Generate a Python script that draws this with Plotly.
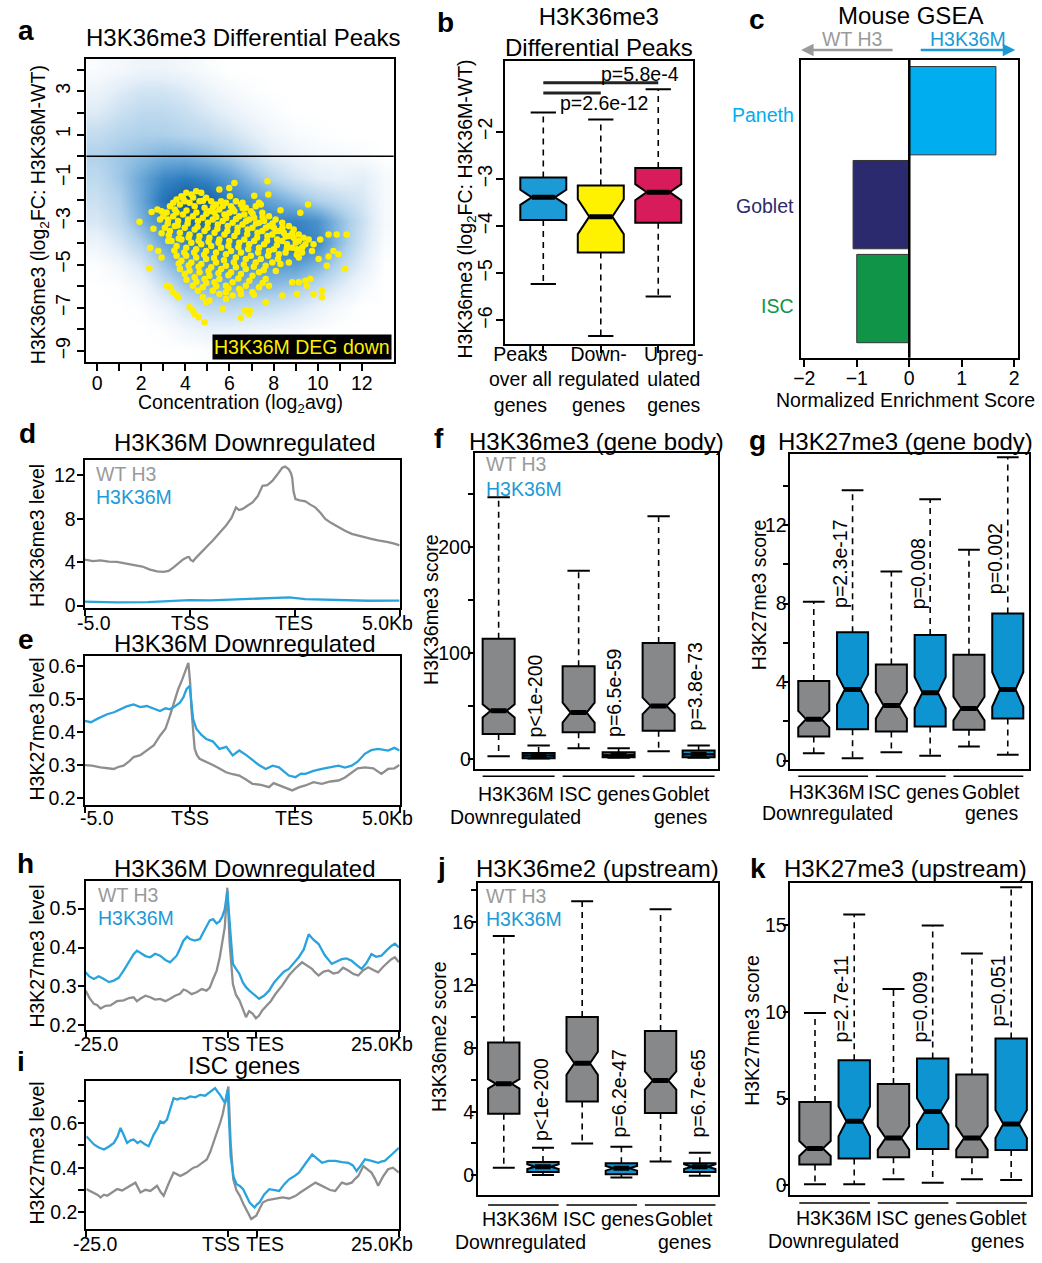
import plotly.graph_objects as go

W, H = 1042, 1263
FONT = "Liberation Sans, Arial, Helvetica, sans-serif"
BLACK = "#000000"
LINE_BLUE = "#29a3dd"
LINE_GRAY = "#8e8e8e"
TXT_GRAY = "#9a9a9a"
TXT_BLUE = "#1c9ad6"
BOX_GRAY = "#87888a"
BOX_BLUE = "#0f94d2"
FS = 19.5

# ======================= DATA =======================
# ---- a: density background + DEG-down peaks ----
a_dens_x = [0, 1, 2, 3, 4, 5, 6, 7, 8, 9, 10, 11, 12, 13]
a_dens_y = [-9, -8, -7, -6, -5, -4, -3, -2, -1, 0, 1, 2, 3, 4]
a_dens_z = [
    [0, 0, 0, 0, 0, 0.02, 0.02, 0.02, 0, 0, 0, 0, 0, 0],
    [0, 0, 0, 0.02, 0.08, 0.12, 0.12, 0.1, 0.08, 0.05, 0.02, 0, 0, 0],
    [0, 0, 0.02, 0.1, 0.22, 0.3, 0.3, 0.28, 0.25, 0.2, 0.12, 0.05, 0, 0],
    [0, 0.02, 0.08, 0.25, 0.4, 0.48, 0.5, 0.48, 0.45, 0.4, 0.3, 0.18, 0.06, 0],
    [0.02, 0.08, 0.2, 0.4, 0.55, 0.62, 0.65, 0.62, 0.6, 0.6, 0.5, 0.32, 0.15, 0],
    [0.1, 0.2, 0.35, 0.55, 0.7, 0.75, 0.75, 0.72, 0.75, 0.8, 0.7, 0.45, 0.22, 0.03],
    [0.2, 0.3, 0.5, 0.7, 0.85, 0.85, 0.8, 0.75, 0.72, 0.72, 0.65, 0.45, 0.25, 0.05],
    [0.25, 0.35, 0.55, 0.8, 0.95, 0.9, 0.75, 0.65, 0.55, 0.45, 0.35, 0.28, 0.2, 0.05],
    [0.3, 0.4, 0.55, 0.7, 0.75, 0.7, 0.6, 0.45, 0.32, 0.22, 0.15, 0.12, 0.15, 0.05],
    [0.35, 0.4, 0.45, 0.5, 0.5, 0.45, 0.38, 0.28, 0.16, 0.1, 0.06, 0.05, 0.03, 0],
    [0.28, 0.33, 0.36, 0.36, 0.33, 0.3, 0.24, 0.16, 0.08, 0.04, 0.02, 0, 0, 0],
    [0.18, 0.25, 0.3, 0.3, 0.26, 0.2, 0.13, 0.07, 0.03, 0, 0, 0, 0, 0],
    [0.1, 0.17, 0.22, 0.22, 0.18, 0.11, 0.05, 0.02, 0, 0, 0, 0, 0, 0],
    [0.03, 0.06, 0.1, 0.1, 0.07, 0.03, 0, 0, 0, 0, 0, 0, 0, 0],
]
a_deg_x = [
    1.92, 2.47, 2.55, 2.40, 2.37, 2.73, 2.92, 2.85, 2.92, 3.22, 2.77, 2.92, 3.15, 3.30, 3.45, 3.60, 3.67,
    4.19, 4.34, 4.42, 4.61, 4.87, 5.09, 4.94, 4.79, 5.69, 5.84, 6.52, 6.71, 6.89, 6.92, 7.64, 8.39, 9.06,
    9.51, 9.81, 10.19, 10.19, 10.41, 10.49, 10.71, 10.94, 11.24, 11.31, 10.86, 10.49, 10.11, 9.81, 9.74,
    9.14, 8.69, 8.31, 10.04, 9.66, 9.44, 9.14, 8.84, 7.72, 7.76, 6.22, 5.99, 5.54, 9.56, 9.21, 8.31, 7.12,
    7.34, 7.42, 6.02, 6.59,
    3.60, 3.82, 4.04, 4.27, 4.49, 4.72, 4.94, 5.17, 5.39, 5.62, 5.84, 6.07, 6.29, 6.52, 6.74, 6.97, 7.19,
    7.49, 7.79, 8.09, 8.39, 8.69, 8.91, 9.14, 9.36, 9.59,
    3.30, 3.52, 3.75, 3.97, 4.19, 4.42, 4.64, 4.87, 5.09, 5.32, 5.54, 5.77, 5.99, 6.22, 6.44, 6.67, 6.89,
    7.12, 7.34, 7.57, 7.79, 8.01, 8.24, 8.46, 8.69, 8.91, 9.14, 9.44,
    3.00, 3.22, 3.45, 3.67, 3.89, 4.12, 4.34, 4.57, 4.79, 5.02, 5.24, 5.47, 5.69, 5.92, 6.14, 6.37, 6.59,
    6.82, 7.04, 7.27, 7.49, 7.72, 7.94, 8.16, 8.39, 8.61, 8.84, 9.06, 9.29,
    3.07, 3.30, 3.52, 3.75, 3.97, 4.19, 4.42, 4.64, 4.87, 5.09, 5.32, 5.54, 5.77, 5.99, 6.22, 6.44, 6.67,
    6.89, 7.12, 7.34, 7.57, 7.79, 8.01, 8.24, 8.54,
    3.37, 3.60, 3.82, 4.04, 4.27, 4.49, 4.72, 4.94, 5.17, 5.39, 5.62, 5.84, 6.07, 6.29, 6.52, 6.74, 6.97,
    7.19, 7.42, 7.64, 7.94,
    3.60, 3.82, 4.04, 4.27, 4.49, 4.72, 4.94, 5.17, 5.39, 5.62, 5.84, 6.07, 6.29, 6.52, 6.74, 7.04, 7.34, 7.64,
    3.75, 3.97, 4.19, 4.42, 4.64, 4.87, 5.09, 5.32, 5.54, 5.84, 6.14, 6.44, 6.74, 7.04, 7.34, 7.79,
    4.34, 4.57, 4.79, 5.24, 5.54, 5.84, 6.14, 6.52,
    3.45, 3.90, 4.35, 4.80, 5.25, 5.70, 6.15, 6.60, 7.05, 7.50, 7.95, 8.40, 8.85,
    3.15, 3.60, 4.05, 4.50, 4.95, 5.40, 5.85, 6.30, 6.75, 7.20, 7.65, 8.10, 8.55, 9.00, 9.30,
    3.20, 3.65, 4.10, 4.55, 5.00, 5.45, 5.90, 6.35, 6.80, 7.25, 7.70, 8.15, 8.60, 9.05,
    3.25, 3.70, 4.15, 4.60, 5.05, 5.50, 5.95, 6.40, 6.85, 7.30, 7.75, 8.20,
    3.50, 3.95, 4.40, 4.85, 5.30, 5.75, 6.20, 6.65, 7.10, 7.55, 8.10,
    3.70, 4.15, 4.60, 5.05, 5.50, 5.95, 6.40, 6.90, 7.50,
    4.05, 4.50, 4.95, 5.40, 5.95, 6.50, 7.10,
]
a_deg_y = [
    -3.02, -2.58, -3.35, -4.22, -5.17, -2.46, -2.54, -2.92, -3.56, -3.91, -4.37, -4.68, -5.98, -6.05, -6.28, -6.43, -6.51,
    -6.97, -7.12, -7.28, -7.43, -7.66, -6.66, -6.74, -6.51, -7.05, -6.59, -7.46, -7.12, -7.28, -7.12, -6.74, -6.43, -6.36,
    -5.98, -6.36, -6.51, -6.21, -5.06, -4.63, -4.37, -4.52, -5.21, -3.61, -3.61, -3.61, -3.84, -4.06, -4.37,
    -4.68, -4.91, -4.98, -4.75, -5.67, -5.75, -5.82, -5.82, -1.16, -1.77, -1.24, -1.47, -1.54, -2.23, -2.61, -2.49, -1.82,
    -2.15, -2.23, -1.85, -2.15,
    -2.00, -1.85, -1.69, -1.77, -1.62, -1.69, -1.92, -2.08, -2.23, -2.08, -2.15, -2.31, -2.08, -2.23, -2.38, -2.54, -2.31,
    -2.61, -2.77, -2.92, -3.07, -3.22, -3.38, -3.61, -3.76, -3.84,
    -2.31, -2.46, -2.23, -2.08, -2.15, -2.31, -2.08, -2.38, -2.54, -2.61, -2.46, -2.69, -2.61, -2.54, -2.77, -2.69, -2.92,
    -2.84, -3.07, -2.99, -3.22, -3.30, -3.45, -3.53, -3.68, -3.76, -3.91, -4.06,
    -2.77, -2.92, -2.77, -2.99, -2.69, -2.92, -2.77, -2.99, -2.84, -3.07, -2.92, -3.15, -2.99, -3.22, -3.07, -3.30, -3.15,
    -3.38, -3.30, -3.53, -3.45, -3.68, -3.61, -3.84, -3.91, -4.06, -4.22, -4.29, -4.45,
    -3.30, -3.45, -3.22, -3.53, -3.30, -3.61, -3.38, -3.68, -3.45, -3.76, -3.53, -3.84, -3.61, -3.91, -3.68, -3.99, -3.84,
    -4.06, -3.91, -4.22, -4.06, -4.37, -4.29, -4.52, -4.45,
    -3.91, -4.14, -3.84, -4.22, -3.99, -4.29, -4.06, -4.37, -4.14, -4.45, -4.22, -4.52, -4.37, -4.68, -4.45, -4.75, -4.60,
    -4.91, -4.75, -5.06, -4.91,
    -4.60, -4.83, -4.60, -4.91, -4.68, -4.98, -4.75, -5.13, -4.91, -5.21, -5.06, -5.36, -5.13, -5.44, -5.21, -5.52, -5.36, -5.67,
    -5.21, -5.44, -5.29, -5.59, -5.36, -5.67, -5.52, -5.82, -5.67, -5.98, -5.82, -6.13, -5.98, -6.28, -6.05, -5.98,
    -5.98, -6.21, -6.05, -6.21, -6.36, -6.28, -6.43, -6.36,
    -2.15, -1.95, -1.90, -2.05, -2.35, -2.30, -2.45, -2.40, -2.65, -2.80, -3.10, -3.30, -3.55,
    -2.60, -2.60, -2.50, -2.60, -2.65, -2.80, -2.85, -2.90, -3.00, -3.10, -3.30, -3.45, -3.70, -4.00, -4.20,
    -3.10, -3.20, -3.10, -3.25, -3.30, -3.35, -3.45, -3.50, -3.60, -3.75, -3.90, -4.10, -4.25, -4.55,
    -3.65, -3.80, -3.75, -3.90, -3.95, -4.00, -4.15, -4.20, -4.30, -4.45, -4.60, -4.75,
    -4.35, -4.45, -4.45, -4.55, -4.70, -4.80, -4.90, -5.00, -5.10, -5.25, -5.30,
    -4.95, -5.05, -5.10, -5.30, -5.40, -5.50, -5.65, -5.75, -5.85,
    -5.70, -5.80, -5.85, -6.00, -6.10, -6.20, -6.40,
]
a_x_ticks = [0, 1, 2, 3, 4, 5, 6, 7, 8, 9, 10, 11, 12]
a_x_ticktext = ["0", "", "2", "", "4", "", "6", "", "8", "", "10", "", "12"]
a_y_ticks = [-9, -8, -7, -6, -5, -4, -3, -2, -1, 0, 1, 2, 3, 4]
a_y_ticktext = ["−9", "", "−7", "", "−5", "", "−3", "", "−1", "", "1", "", "3", ""]

# ---- b: boxplots of log2FC ----
b_pos = [1, 2, 3]
b_labels = ["Peaks<br>over all<br>genes", "Down-<br>regulated<br>genes", "Upreg-<br>ulated<br>genes"]
b_q1 = [-3.87, -4.56, -3.93]
b_med = [-3.39, -3.80, -3.28]
b_q3 = [-2.97, -3.14, -2.77]
b_lo = [-5.23, -6.33, -5.49]
b_hi = [-1.59, -1.74, -1.10]
b_notch = [0.16, 0.37, 0.17]
b_colors = ["#1c9ad6", "#fff200", "#d81b5b"]
b_brk_x0 = [1, 1]
b_brk_x1 = [3, 2]
b_brk_y = [-0.96, -1.18]
b_ptext = ["p=5.8e-4", "p=2.6e-12"]
b_ptext_x = [2.69, 2.05]
b_ptext_y = [-0.77, -1.40]
b_y_ticks = [-6, -5, -4, -3, -2]
b_y_ticktext = ["−6", "−5", "−4", "−3", "−2"]

# ---- c: GSEA ----
c_sets = ["ISC", "Goblet", "Paneth"]
c_ypos = [0, 1, 2]
c_nes = [-1.0, -1.07, 1.65]
c_colors = ["#0f9448", "#2b2a6e", "#00aeef"]
c_x_ticks = [-2, -1, 0, 1, 2]
c_x_ticktext = ["−2", "−1", "0", "1", "2"]

# ---- d/e: metagene profiles (-5kb, TSS, TES, +5kb scaled to 0..3) ----
de_tick_vals = [0, 1, 2, 3]
de_tick_text = ["-5.0", "TSS", "TES", "5.0Kb"]
d_gray_x = [0.0, 0.08, 0.151, 0.23, 0.308, 0.39, 0.466, 0.55, 0.623, 0.69, 0.749, 0.80, 0.844, 0.89, 0.938,
            0.975, 0.995, 1.01, 1.033, 1.06, 1.095, 1.16, 1.221, 1.28, 1.347, 1.40, 1.442, 1.47, 1.505, 1.55,
            1.599, 1.65, 1.694, 1.74, 1.788, 1.83, 1.882, 1.91, 1.945, 1.965, 1.977, 1.99, 2.008, 2.05, 2.103,
            2.15, 2.197, 2.25, 2.292, 2.35, 2.418, 2.48, 2.544, 2.60, 2.669, 2.73, 2.795, 2.85, 2.890, 2.95, 3.0]
d_gray_y = [4.23, 4.1, 4.17, 4.05, 4.02, 3.9, 3.78, 3.6, 3.32, 3.15, 3.11, 3.2, 3.5, 3.85, 4.26,
            4.45, 4.48, 4.2, 4.08, 4.4, 4.78, 5.4, 6.0, 6.6, 7.37, 8.1, 9.05, 8.8, 8.9, 9.2,
            9.5, 10.1, 11.03, 11.1, 11.48, 12.0, 12.7, 12.8, 12.55, 12.2, 11.79, 10.5, 9.81, 9.7, 9.6,
            9.3, 9.05, 8.5, 7.98, 7.6, 7.22, 6.9, 6.61, 6.45, 6.3, 6.15, 6.0, 5.95, 5.85, 5.7, 5.54]
d_blue_x = [0, 0.3, 0.6, 0.9, 1.0, 1.2, 1.5, 1.8, 1.95, 2.1, 2.4, 2.7, 3.0]
d_blue_y = [0.37, 0.3, 0.32, 0.42, 0.5, 0.48, 0.6, 0.7, 0.76, 0.6, 0.5, 0.45, 0.46]
e_gray_x = [0, 0.07, 0.151, 0.21, 0.277, 0.32, 0.371, 0.42, 0.466, 0.53, 0.592, 0.66, 0.718, 0.77, 0.812,
            0.85, 0.891, 0.93, 0.954, 0.975, 0.988, 1.005, 1.017, 1.048, 1.07, 1.095, 1.16, 1.221, 1.28, 1.347,
            1.41, 1.473, 1.54, 1.599, 1.68, 1.757, 1.80, 1.851, 1.91, 1.977, 2.04, 2.103, 2.18, 2.260, 2.34,
            2.418, 2.48, 2.544, 2.60, 2.669, 2.75, 2.827, 2.890, 2.95, 3.0]
e_gray_y = [0.30, 0.298, 0.293, 0.29, 0.288, 0.294, 0.298, 0.31, 0.324, 0.33, 0.344, 0.36, 0.389, 0.41, 0.449,
            0.49, 0.53, 0.56, 0.58, 0.598, 0.61, 0.55, 0.47, 0.35, 0.33, 0.319, 0.31, 0.30, 0.29, 0.278,
            0.272, 0.268, 0.255, 0.243, 0.24, 0.233, 0.245, 0.238, 0.232, 0.223, 0.232, 0.238, 0.248, 0.243, 0.25,
            0.253, 0.262, 0.278, 0.29, 0.293, 0.29, 0.273, 0.288, 0.29, 0.30]
e_blue_x = [0, 0.06, 0.120, 0.17, 0.214, 0.28, 0.340, 0.40, 0.466, 0.53, 0.592, 0.66, 0.718, 0.77, 0.812,
            0.86, 0.907, 0.94, 0.970, 1.001, 1.015, 1.033, 1.064, 1.11, 1.158, 1.22, 1.284, 1.35, 1.410, 1.473,
            1.54, 1.599, 1.66, 1.725, 1.79, 1.851, 1.90, 1.945, 2.008, 2.06, 2.103, 2.18, 2.260, 2.34, 2.418,
            2.48, 2.544, 2.60, 2.669, 2.73, 2.795, 2.890, 2.95, 3.0]
e_blue_y = [0.434, 0.43, 0.44, 0.448, 0.454, 0.46, 0.469, 0.478, 0.484, 0.476, 0.479, 0.47, 0.464, 0.472, 0.469,
            0.478, 0.489, 0.505, 0.53, 0.54, 0.5, 0.44, 0.41, 0.392, 0.379, 0.372, 0.349, 0.355, 0.329, 0.344,
            0.33, 0.314, 0.3, 0.288, 0.298, 0.293, 0.28, 0.268, 0.263, 0.274, 0.273, 0.282, 0.288, 0.293, 0.298,
            0.292, 0.298, 0.31, 0.334, 0.345, 0.349, 0.344, 0.352, 0.344]

# ---- h/i: profiles in kb (-25kb .. TSS(0) .. TES(5) .. +25kb) ----
hi_tick_vals = [-25, 0, 5, 30]
hi_tick_text = ["-25.0", "TSS", "TES", "25.0Kb"]
h_gray_x = [-25, -24.3, -23.55, -23.0, -22.38, -21.5, -20.64, -19.5, -18.31, -17.4, -16.57, -16.0, -15.41,
            -14.5, -13.66, -12.8, -11.92, -11.0, -10.17, -9.3, -8.43, -7.8, -7.27, -6.4, -5.52, -4.6, -3.78,
            -3.2, -2.62, -2.0, -1.45, -0.58, -0.12, 0.29, 0.86, 1.4, 2.01, 2.6, 3.16, 3.7, 4.31, 4.9, 5.46,
            6.0, 6.62, 7.5, 8.36, 9.5, 10.68, 11.8, 13.0, 13.9, 14.74, 15.3, 15.90, 16.8, 17.64, 18.5, 19.38,
            20.2, 21.12, 22.0, 22.86, 23.7, 24.61, 25.5, 26.35, 27.2, 28.09, 28.67, 29.3, 30]
h_gray_y = [0.289, 0.27, 0.255, 0.252, 0.243, 0.25, 0.251, 0.262, 0.264, 0.27, 0.272, 0.262, 0.268,
            0.276, 0.272, 0.266, 0.268, 0.262, 0.268, 0.276, 0.281, 0.292, 0.289, 0.28, 0.285, 0.293, 0.289,
            0.297, 0.319, 0.34, 0.375, 0.451, 0.554, 0.409, 0.306, 0.278, 0.264, 0.24, 0.221, 0.236, 0.230,
            0.218, 0.225, 0.238, 0.247, 0.262, 0.281, 0.302, 0.328, 0.346, 0.362, 0.352, 0.345, 0.336, 0.328,
            0.338, 0.341, 0.333, 0.336, 0.348, 0.341, 0.332, 0.328, 0.341, 0.349, 0.342, 0.336, 0.350, 0.362,
            0.370, 0.375, 0.362]
h_blue_x = [-25, -24.3, -23.55, -22.7, -21.80, -20.9, -20.06, -19.2, -18.31, -17.4, -16.57, -16.0, -15.41,
            -14.5, -13.66, -12.8, -11.92, -11.0, -10.17, -9.01, -8.4, -7.85, -7.2, -6.69, -5.8, -4.94, -4.3,
            -3.78, -3.2, -2.62, -2.0, -1.45, -1.0, -0.58, -0.12, 0.40, 0.86, 1.4, 2.01, 2.6, 3.16, 3.7, 4.31,
            4.9, 5.46, 6.3, 7.20, 8.1, 8.94, 9.8, 10.68, 11.5, 12.42, 13.3, 14.16, 15.0, 15.90, 17.0, 18.22,
            19.1, 19.96, 20.8, 21.70, 22.6, 23.44, 24.3, 25.18, 26.0, 26.93, 27.8, 28.67, 29.3, 30]
h_blue_y = [0.336, 0.325, 0.319, 0.326, 0.319, 0.311, 0.315, 0.322, 0.341, 0.365, 0.383, 0.392, 0.387,
            0.378, 0.375, 0.384, 0.379, 0.368, 0.362, 0.379, 0.398, 0.417, 0.428, 0.422, 0.418, 0.422, 0.44,
            0.456, 0.47, 0.473, 0.462, 0.468, 0.48, 0.498, 0.545, 0.443, 0.358, 0.345, 0.332, 0.31, 0.298,
            0.29, 0.281, 0.275, 0.268, 0.276, 0.289, 0.31, 0.324, 0.338, 0.345, 0.36, 0.375, 0.395, 0.434,
            0.42, 0.409, 0.38, 0.358, 0.364, 0.370, 0.372, 0.366, 0.355, 0.345, 0.36, 0.383, 0.376, 0.379,
            0.392, 0.404, 0.41, 0.400]
i_gray_x = [-25, -24.3, -23.66, -23.0, -22.49, -21.9, -21.32, -20.4, -19.57, -18.7, -17.82, -17.0, -16.36,
            -15.48, -14.6, -13.73, -13.1, -12.56, -11.9, -11.39, -10.5, -9.64, -9.0, -8.47, -7.9, -7.30, -6.7,
            -6.13, -5.5, -4.97, -4.4, -3.80, -3.2, -2.63, -2.0, -1.46, -1.0, -0.58, 0, 0.40, 0.86, 1.4, 2.01,
            2.6, 3.16, 3.6, 4.02, 4.89, 5.5, 6.04, 6.9, 7.78, 8.6, 9.52, 10.7, 11.84, 12.7, 13.58, 14.4, 15.32,
            16.2, 17.06, 17.9, 18.80, 19.4, 19.96, 20.8, 21.70, 22.3, 22.86, 23.73, 24.5, 25.18, 25.8, 26.35,
            27.2, 28.09, 28.96, 29.5, 30]
i_gray_y = [0.304, 0.296, 0.289, 0.278, 0.267, 0.279, 0.274, 0.29, 0.304, 0.298, 0.311, 0.322, 0.333,
            0.289, 0.301, 0.296, 0.31, 0.319, 0.29, 0.274, 0.33, 0.378, 0.37, 0.363, 0.37, 0.378, 0.39,
            0.40, 0.405, 0.415, 0.425, 0.437, 0.47, 0.511, 0.555, 0.60, 0.64, 0.689, 0.763, 0.511, 0.348, 0.3,
            0.274, 0.24, 0.215, 0.19, 0.170, 0.185, 0.22, 0.244, 0.255, 0.259, 0.262, 0.267, 0.262, 0.274,
            0.29, 0.304, 0.32, 0.333, 0.322, 0.311, 0.30, 0.296, 0.315, 0.333, 0.326, 0.333, 0.35, 0.363,
            0.407, 0.39, 0.378, 0.35, 0.319, 0.36, 0.393, 0.40, 0.388, 0.378]
i_blue_x = [-25, -24.3, -23.66, -22.8, -21.90, -21.0, -20.15, -19.5, -18.98, -18.4, -17.82, -17.2, -16.65,
            -16.0, -15.48, -14.7, -14.02, -13.14, -12.5, -11.97, -11.4, -10.81, -10.2, -9.64, -9.0, -8.47,
            -7.6, -6.72, -5.8, -4.97, -4.1, -3.21, -2.34, -1.9, -1.46, -0.58, -0.12, 0.40, 0.9, 1.44, 2.0,
            2.59, 3.2, 3.74, 4.60, 5.0, 5.46, 6.3, 7.20, 8.1, 8.94, 9.8, 10.68, 11.5, 12.42, 13.6, 14.74, 15.6,
            16.48, 17.6, 18.80, 20.0, 21.12, 21.9, 22.57, 23.3, 24.03, 25.2, 26.35, 27.0, 27.51, 28.8, 30]
i_blue_y = [0.541, 0.52, 0.504, 0.49, 0.481, 0.495, 0.511, 0.54, 0.578, 0.545, 0.511, 0.522, 0.526,
            0.51, 0.519, 0.505, 0.496, 0.548, 0.575, 0.607, 0.6, 0.615, 0.66, 0.711, 0.705, 0.711,
            0.708, 0.719, 0.715, 0.726, 0.722, 0.741, 0.756, 0.74, 0.726, 0.689, 0.748, 0.452, 0.36, 0.326,
            0.318, 0.304, 0.27, 0.244, 0.222, 0.235, 0.244, 0.28, 0.304, 0.3, 0.296, 0.325, 0.348, 0.36,
            0.378, 0.42, 0.459, 0.44, 0.422, 0.43, 0.430, 0.425, 0.422, 0.41, 0.385, 0.41, 0.437, 0.43,
            0.422, 0.428, 0.430, 0.46, 0.489]

# ---- f/g/j/k: grouped boxplots (WT H3 / H3K36M pairs) ----
grp_pos = [1, 2, 3, 4, 5, 6]
grp_colors = [BOX_GRAY, BOX_BLUE, BOX_GRAY, BOX_BLUE, BOX_GRAY, BOX_BLUE]
grp_centers = [1.5, 3.5, 5.5]
grp_label_l1 = ["H3K36M", "ISC genes", "Goblet"]
grp_label_l2 = ["Downregulated", "", "genes"]
p_pos = [2, 4, 6]

f_q1 = [23.4, 0.6, 25.0, 1.5, 26.5, 1.5]
f_med = [45.3, 3.1, 43.7, 3.4, 50.0, 4.4]
f_q3 = [113.4, 5.6, 87.5, 6.2, 109.3, 7.8]
f_lo = [2.5, 0.2, 10.0, 1.0, 7.1, 1.0]
f_hi = [247.0, 12.5, 177.5, 10.0, 229.0, 12.5]
f_notch = [6.3, 0.5, 9.4, 0.5, 7.8, 0.5]
f_p = ["p&lt;1e-200", "p=6.5e-59", "p=3.8e-73"]
f_p_y = [59.4, 61.9, 68.0]

g_q1 = [1.23, 1.60, 1.48, 1.74, 1.57, 2.14]
g_med = [2.11, 3.62, 2.81, 3.46, 2.65, 3.62]
g_q3 = [4.05, 6.54, 4.89, 6.40, 5.39, 7.50]
g_lo = [0.37, 0.12, 0.42, 0.25, 0.72, 0.29]
g_hi = [8.09, 13.77, 9.64, 13.32, 10.74, 15.46]
g_notch = [0.42, 0.76, 0.67, 0.80, 0.60, 0.88]
g_p = ["p=2.3e-17", "p=0.008", "p=0.002"]
g_p_y = [10.0, 9.5, 10.3]

j_q1 = [3.87, 0.19, 4.65, 0.04, 3.92, 0.19]
j_med = [5.76, 0.52, 7.06, 0.42, 5.97, 0.52]
j_q3 = [8.38, 0.82, 9.99, 0.73, 9.11, 0.73]
j_lo = [0.46, 0.0, 1.99, -0.17, 0.84, -0.06]
j_hi = [15.12, 1.72, 17.32, 1.78, 16.8, 1.40]
j_notch = [0.30, 0.15, 0.73, 0.15, 0.58, 0.15]
j_p = ["p&lt;1e-200", "p=6.2e-47", "p=6.7e-65"]
j_p_y = [4.8, 5.17, 5.2]

k_q1 = [1.20, 1.55, 1.62, 2.10, 1.62, 2.03]
k_med = [2.12, 3.69, 2.73, 4.26, 2.73, 3.54]
k_q3 = [4.80, 7.22, 5.85, 7.32, 6.40, 8.47]
k_lo = [0.06, 0.06, 0.34, 0.15, 0.34, 0.31]
k_hi = [9.94, 15.63, 11.33, 15.00, 13.38, 17.20]
k_notch = [0.43, 0.86, 0.67, 0.76, 0.67, 0.81]
k_p = ["p=2.7e-11", "p=0.009", "p=0.051"]
k_p_y = [10.74, 10.3, 11.2]

# ======================= LAYOUT (pixel boxes) =======================
PANEL_BOX = {  # left, right, top, bottom (px)
    1: (79, 389, 58, 364),
    2: (501.7, 690.7, 60, 345),
    3: (800, 1019.3, 59.3, 359.3),
    4: (77.3, 395, 462.3, 611.7),
    5: (77.3, 395, 659.3, 810),
    6: (470.7, 716, 455, 773.3),
    7: (789.3, 1030, 456.7, 773.3),
    8: (78.3, 394.3, 886, 1036.7),
    9: (79, 394.3, 1087.3, 1236.7),
    10: (474, 716, 888.3, 1202.7),
    11: (789.3, 1031.7, 888.3, 1202.7),
}


def names(n):
    return ("x" if n == 1 else f"x{n}"), ("y" if n == 1 else f"y{n}")


def keys(n):
    return ("xaxis" if n == 1 else f"xaxis{n}"), ("yaxis" if n == 1 else f"yaxis{n}")


def base_axis(**kw):
    d = dict(showline=True, linecolor=BLACK, linewidth=2, mirror=True, ticks="outside", ticklen=7,
             tickwidth=1.5, tickcolor=BLACK, showgrid=False, zeroline=False, fixedrange=True,
             tickfont=dict(family=FONT, size=FS, color=BLACK), tickangle=0)
    d.update(kw)
    return d


fig = go.Figure()


def txt(x, y, s, size=FS, color=BLACK, xa="center", ya="middle", angle=0, **kw):
    fig.add_annotation(x=x / W, y=1 - y / H, xref="paper", yref="paper", text=s, showarrow=False,
                       font=dict(family=FONT, size=size, color=color), xanchor=xa, yanchor=ya,
                       textangle=angle, **kw)


def add_boxes(n, pos, q1, med, q3, lo, hi, notch, colors, capw, boxw=0.8):
    xa, ya = names(n)
    for i in range(len(pos)):
        fig.add_trace(go.Box(x=[pos[i]], q1=[q1[i]], median=[med[i]], q3=[q3[i]],
                             lowerfence=[q1[i]], upperfence=[q3[i]], notched=True, notchspan=[notch[i]],
                             notchwidth=0.25, width=boxw, whiskerwidth=0, boxpoints=False,
                             fillcolor=colors[i], line=dict(color=BLACK, width=2),
                             xaxis=xa, yaxis=ya, showlegend=False, hoverinfo="skip"))
    wx, wy, cx, cy, mx, my = [], [], [], [], [], []
    half = boxw / 2 * (1 - 2 * 0.25)
    for i in range(len(pos)):
        p = pos[i]
        wx += [p, p, None, p, p, None]
        wy += [q3[i], hi[i], None, q1[i], lo[i], None]
        cx += [p - capw, p + capw, None, p - capw, p + capw, None]
        cy += [hi[i], hi[i], None, lo[i], lo[i], None]
        mx += [p - half, p + half, None]
        my += [med[i], med[i], None]
    fig.add_trace(go.Scatter(x=wx, y=wy, mode="lines", line=dict(color=BLACK, width=1.6, dash="6px,5px"),
                             xaxis=xa, yaxis=ya, showlegend=False, hoverinfo="skip"))
    fig.add_trace(go.Scatter(x=cx, y=cy, mode="lines", line=dict(color=BLACK, width=2),
                             xaxis=xa, yaxis=ya, showlegend=False, hoverinfo="skip"))
    fig.add_trace(go.Scatter(x=mx, y=my, mode="lines", line=dict(color=BLACK, width=5),
                             xaxis=xa, yaxis=ya, showlegend=False, hoverinfo="skip"))


def add_line(n, x, y, color):
    xa, ya = names(n)
    fig.add_trace(go.Scatter(x=x, y=y, mode="lines", line=dict(color=color, width=2.3),
                             xaxis=xa, yaxis=ya, showlegend=False, hoverinfo="skip"))


# ---------- panel a ----------
fig.add_trace(go.Heatmap(x=a_dens_x, y=a_dens_y, z=a_dens_z, zmin=0, zmax=1, zsmooth="best",
                         colorscale=[[0, "#ffffff"], [0.15, "#e4eff8"], [0.35, "#b1d2eb"],
                                     [0.55, "#6aa8d8"], [0.75, "#2f7ec0"], [1, "#0b4f96"]],
                         showscale=False, xaxis="x", yaxis="y", hoverinfo="skip"))
fig.add_trace(go.Scatter(x=a_deg_x, y=a_deg_y, mode="markers",
                         marker=dict(color="#ffee00", size=6.5, line=dict(width=0)),
                         xaxis="x", yaxis="y", showlegend=False, hoverinfo="skip"))
fig.add_shape(type="line", xref="x domain", yref="y", x0=0, x1=1, y0=0, y1=0,
              line=dict(color=BLACK, width=1.6))

# ---------- panel b ----------
add_boxes(2, b_pos, b_q1, b_med, b_q3, b_lo, b_hi, b_notch, b_colors, capw=0.22)
for x0, x1, y in zip(b_brk_x0, b_brk_x1, b_brk_y):
    fig.add_shape(type="line", xref="x2", yref="y2", x0=x0, x1=x1, y0=y, y1=y,
                  line=dict(color="#222222", width=3))
for t, x, y in zip(b_ptext, b_ptext_x, b_ptext_y):
    fig.add_annotation(x=x, y=y, xref="x2", yref="y2", text=t, showarrow=False,
                       font=dict(family=FONT, size=FS, color=BLACK))

# ---------- panel c ----------
fig.add_trace(go.Bar(x=c_nes, y=c_ypos, orientation="h", width=0.94,
                     marker=dict(color=c_colors, line=dict(color="#333333", width=1)),
                     xaxis="x3", yaxis="y3", showlegend=False, hoverinfo="skip"))
fig.add_shape(type="line", xref="x3", yref="y3 domain", x0=0, x1=0, y0=0, y1=1,
              line=dict(color=BLACK, width=2.5))

# ---------- panels d, e, h, i ----------
add_line(4, d_gray_x, d_gray_y, LINE_GRAY)
add_line(4, d_blue_x, d_blue_y, LINE_BLUE)
add_line(5, e_gray_x, e_gray_y, LINE_GRAY)
add_line(5, e_blue_x, e_blue_y, LINE_BLUE)
add_line(8, h_gray_x, h_gray_y, LINE_GRAY)
add_line(8, h_blue_x, h_blue_y, LINE_BLUE)
add_line(9, i_gray_x, i_gray_y, LINE_GRAY)
add_line(9, i_blue_x, i_blue_y, LINE_BLUE)

# ---------- panels f, g, j, k ----------
add_boxes(6, grp_pos, f_q1, f_med, f_q3, f_lo, f_hi, f_notch, grp_colors, capw=0.28)
add_boxes(7, grp_pos, g_q1, g_med, g_q3, g_lo, g_hi, g_notch, grp_colors, capw=0.28)
add_boxes(10, grp_pos, j_q1, j_med, j_q3, j_lo, j_hi, j_notch, grp_colors, capw=0.28)
add_boxes(11, grp_pos, k_q1, k_med, k_q3, k_lo, k_hi, k_notch, grp_colors, capw=0.28)


def p_annots(n, texts, ys, xshift):
    xa, ya = names(n)
    for p, t, y in zip(p_pos, texts, ys):
        fig.add_annotation(x=p, y=y, xref=xa, yref=ya, text=t, showarrow=False, textangle=-90,
                           xshift=xshift, font=dict(family=FONT, size=FS, color=BLACK))


p_annots(6, f_p, f_p_y, -4)
p_annots(7, g_p, g_p_y, -12)
p_annots(10, j_p, j_p_y, -2)
p_annots(11, k_p, k_p_y, -13)

# group lines and labels: (line y px, label line1 y px, label line2 y px, per-group x shifts px)
GROUP_Y = {6: (780.7, 798.3, 821.7, [-3, 6, 2]),
           7: (780.7, 796.7, 818.3, [-6, 3, 3]),
           10: (1212.7, 1226.7, 1250, [-3, 7, 4]),
           11: (1210.7, 1226, 1249.3, [-1, 8, 6])}
for n, (yl, y1, y2, shifts) in GROUP_Y.items():
    xa, _ = names(n)
    for c, l1, l2, s in zip(grp_centers, grp_label_l1, grp_label_l2, shifts):
        fig.add_shape(type="line", xref=xa, yref="paper", x0=c - 0.9, x1=c + 0.9, y0=1 - yl / H, y1=1 - yl / H,
                      line=dict(color=BLACK, width=1.5))
        fig.add_annotation(x=c, y=1 - y1 / H, xref=xa, yref="paper", text=l1, showarrow=False, xshift=s,
                           font=dict(family=FONT, size=FS, color=BLACK), yanchor="middle")
        if l2:
            fig.add_annotation(x=c, y=1 - y2 / H, xref=xa, yref="paper", text=l2, showarrow=False, xshift=s,
                               font=dict(family=FONT, size=FS, color=BLACK), yanchor="middle")

# profile x tick labels as annotations (px shifts from reference)
PROF_TICKS = {4: (626, de_tick_vals, de_tick_text, [9, 0.6, -0.4, -12]),
              5: (823.3, de_tick_vals, de_tick_text, [12, 0.6, -0.4, -12]),
              8: (1050, hi_tick_vals, hi_tick_text, [11, -7.5, 8.5, -16.6]),
              9: (1251.7, hi_tick_vals, hi_tick_text, [9, -7.5, 8.5, -16.6])}
for n, (yy, vals, texts, shifts) in PROF_TICKS.items():
    xa, _ = names(n)
    for v, t, s in zip(vals, texts, shifts):
        fig.add_annotation(x=v, y=1 - yy / H, xref=xa, yref="paper", text=t, showarrow=False, xshift=s,
                           font=dict(family=FONT, size=FS, color=BLACK), yanchor="middle")

# ---------- axes ----------
layout = dict(width=W, height=H, margin=dict(l=0, r=0, t=0, b=0), paper_bgcolor="white",
              plot_bgcolor="white", showlegend=False, font=dict(family=FONT, size=FS, color=BLACK))

XSPEC = {
    1: dict(range=[-0.49, 13.44], tickvals=a_x_ticks, ticktext=a_x_ticktext, ticklabelstandoff=-5),
    2: dict(range=[0.34, 3.6], tickvals=b_pos, ticktext=["", "", ""]),
    3: dict(range=[-2.06, 2.08], tickvals=c_x_ticks, ticktext=c_x_ticktext, ticklabelstandoff=-5),
    4: dict(range=[0, 3], tickvals=de_tick_vals, showticklabels=False, ticklen=6),
    5: dict(range=[0, 3], tickvals=de_tick_vals, showticklabels=False, ticklen=6),
    6: dict(range=[0.40, 6.48], ticks="", showticklabels=False),
    7: dict(range=[0.40, 6.55], ticks="", showticklabels=False),
    8: dict(range=[-25, 30], tickvals=hi_tick_vals, showticklabels=False, ticklen=6),
    9: dict(range=[-25, 30], tickvals=hi_tick_vals, showticklabels=False, ticklen=6),
    10: dict(range=[0.34, 6.46], ticks="", showticklabels=False),
    11: dict(range=[0.375, 6.5], ticks="", showticklabels=False),
}
PROF_Y = dict(ticklen=6, ticklabelstandoff=-3)
BOX_Y = dict(ticklen=5, ticklabelstandoff=-7)
YSPEC = {
    1: dict(range=[-9.52, 4.51], tickvals=a_y_ticks, ticktext=a_y_ticktext, tickangle=-90),
    2: dict(range=[-6.49, -0.49], tickvals=b_y_ticks, ticktext=b_y_ticktext, tickangle=-90, ticklabelstandoff=-3),
    3: dict(range=[-0.63, 2.541], ticks="", showticklabels=False),
    4: dict(range=[-0.25, 13.41], tickvals=[0, 4, 8, 12], **PROF_Y),
    5: dict(range=[0.178, 0.632], tickvals=[0.2, 0.3, 0.4, 0.5, 0.6],
            ticktext=["0.2", "0.3", "0.4", "0.5", "0.6"], **PROF_Y),
    6: dict(range=[-9.4, 289], tickvals=[0, 50, 100, 150, 200, 250],
            ticktext=["0", "", "100", "", "200", ""], **BOX_Y),
    7: dict(range=[-0.42, 15.6], tickvals=[0, 2, 4, 6, 8, 10, 12, 14],
            ticktext=["0", "", "4", "", "8", "", "12", ""], **BOX_Y),
    8: dict(range=[0.187, 0.572], tickvals=[0.2, 0.3, 0.4, 0.5], ticktext=["0.2", "0.3", "0.4", "0.5"], **PROF_Y),
    9: dict(range=[0.126, 0.79], tickvals=[0.2, 0.3, 0.4, 0.5, 0.6, 0.7],
            ticktext=["0.2", "", "0.4", "", "0.6", ""], **PROF_Y),
    10: dict(range=[-1.28, 18.47], tickvals=[0, 2, 4, 6, 8, 10, 12, 14, 16, 18],
             ticktext=["0", "", "4", "", "8", "", "12", "", "16", ""], **BOX_Y),
    11: dict(range=[-0.57, 17.45], tickvals=[0, 5, 10, 15], **BOX_Y),
}
for n, (l, r, t, b) in PANEL_BOX.items():
    xn, yn = names(n)
    xk, yk = keys(n)
    layout[xk] = base_axis(domain=[l / W, r / W], anchor=yn, **XSPEC[n])
    layout[yk] = base_axis(domain=[1 - b / H, 1 - t / H], anchor=xn, **YSPEC[n])
fig.update_layout(**layout)

# ---------- titles, letters, axis titles, legends ----------
TS = 24
txt(237, 37, "H3K36me3 Differential Peaks", size=TS)
txt(596, 31, "H3K36me3<br>Differential Peaks", size=TS)
txt(910, 15, "Mouse GSEA", size=TS)
txt(239, 445, "H3K36M Downregulated", size=TS)
txt(239, 646.7, "H3K36M Downregulated", size=TS)
txt(594, 443.3, "H3K36me3 (gene body)", size=TS)
txt(905.7, 443.3, "H3K27me3 (gene body)", size=TS)
txt(239, 873.3, "H3K36M Downregulated", size=TS)
txt(238.3, 1071.7, "ISC genes", size=TS)
txt(595, 873.3, "H3K36me2 (upstream)", size=TS)
txt(905.7, 873.3, "H3K27me3 (upstream)", size=TS)

LS = 28
for ch, x, y in [("a", 18, 30), ("b", 441.7, 22), ("c", 756, 19), ("d", 20, 436), ("e", 18, 643),
                 ("f", 435, 441), ("g", 756, 443), ("h", 18, 869), ("i", 13.5, 1068), ("j", 437, 873),
                 ("k", 757, 874)]:
    txt(x, y, f"<b>{ch}</b>", size=LS)

txt(32, 215, "H3K36me3 (log<sub>2</sub>FC: H3K36M-WT)", angle=-90)
txt(462, 210, "H3K36me3 (log<sub>2</sub>FC: H3K36M-WT)", angle=-90)
txt(235, 405, "Concentration (log<sub>2</sub>avg)")
txt(905, 402, "Normalized Enrichment Score")
txt(29, 538, "H3K36me3 level", angle=-90)
txt(29, 733, "H3K27me3 level", angle=-90)
txt(426, 613, "H3K36me3 score", angle=-90)
txt(757, 598, "H3K27me3 score", angle=-90)
txt(29, 961.7, "H3K27me3 level", angle=-90)
txt(29, 1160, "H3K27me3 level", angle=-90)
txt(435, 1043.3, "H3K36me2 score", angle=-90)
txt(751, 1036.7, "H3K27me3 score", angle=-90)

# DEG label box in a
txt(387, 362, "H3K36M DEG down", color="#ffee00", xa="right", ya="bottom", bgcolor=BLACK, borderpad=1)

# b category labels
for lab, x in zip(b_labels, [517, 596, 672]):
    txt(x, 381.7, lab)

# c labels and arrows
for s, col, y in zip(c_sets, c_colors, [306.7, 206.7, 115]):
    txt(795, y, s, color=col, xa="right")
txt(851.7, 38.3, "WT H3", color=TXT_GRAY)
txt(968.7, 38.3, "H3K36M", color=TXT_BLUE)
fig.add_annotation(x=800 / W, y=1 - 49.3 / H, xref="paper", yref="paper", ax=93, ay=0, axref="pixel",
                   ayref="pixel", text="", showarrow=True, arrowhead=2, arrowsize=1, arrowwidth=2.5,
                   arrowcolor=TXT_GRAY)
fig.add_annotation(x=1016 / W, y=1 - 49.3 / H, xref="paper", yref="paper", ax=-96, ay=0, axref="pixel",
                   ayref="pixel", text="", showarrow=True, arrowhead=2, arrowsize=1, arrowwidth=2.5,
                   arrowcolor=TXT_BLUE)

# legends
for (x, y1, y2) in [(86.7, 476.7, 500), (480, 466.7, 491.7), (88.3, 900, 923.3), (480, 901.7, 925)]:
    txt(x, y1, "WT H3", color=TXT_GRAY, xa="left")
    txt(x, y2, "H3K36M", color=TXT_BLUE, xa="left")

fig.write_html("out.html", config={"displayModeBar": False},
               post_script="document.body.style.margin='0px';")
